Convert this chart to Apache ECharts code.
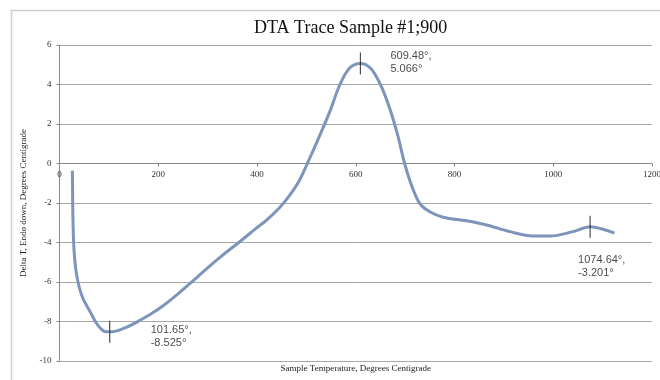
<!DOCTYPE html>
<html>
<head>
<meta charset="utf-8">
<script src="https://cdn.jsdelivr.net/npm/echarts@6/dist/echarts.min.js"></script>
<style>
  html, body { margin: 0; padding: 0; background: #fff; }
  #chart { width: 660px; height: 380px; }
</style>
</head>
<body>
<div id="chart"></div>
<script>
// DTA trace: sample temperature (°C) vs. delta T (°C)
const temperature = [
  26, 26.4, 26.7, 27.3, 28.2, 29.5, 31.2, 33.5, 37, 41.5, 47, 54, 62, 70, 78, 86, 94,
  101.65, 112, 125, 142, 160, 185, 210, 240, 270, 300, 330, 365, 395, 420, 445, 465, 485,
  502, 525, 547, 568, 588, 609.48, 630, 650, 668, 684, 699, 710, 720, 732, 750, 777,
  824, 865, 912, 959, 993, 1040, 1074.64, 1101, 1124
];
const deltaT = [
  -0.36, -1.0, -2.0, -2.9, -3.7, -4.4, -4.95, -5.45, -5.95, -6.4, -6.8, -7.15, -7.5, -7.88, -8.2, -8.42, -8.52,
  -8.525, -8.5, -8.4, -8.22, -7.98, -7.62, -7.2, -6.6, -5.95, -5.28, -4.65, -3.96, -3.35, -2.85, -2.25, -1.65, -0.9,
  0, 1.3, 2.6, 4.0, 4.85, 5.066, 4.82, 4.0, 2.85, 1.52, 0, -0.9, -1.55, -2.1, -2.44, -2.72,
  -2.9, -3.11, -3.45, -3.67, -3.67, -3.45, -3.201, -3.33, -3.53
];

// Marked extrema
const peakTemp = [101.65, 609.48, 1074.64];
const peakDelta = [-8.525, 5.066, -3.201];
const peakLabelOffset = [[41, 5], [30, -1], [-12, 40]];

const xTicks = { min: 0, max: 1200, step: 200 };
const yTicks = { min: -10, max: 6, step: 2 };

const chart = echarts.init(document.getElementById('chart'), null, { renderer: 'canvas' });

const serif = '"Liberation Serif", "DejaVu Serif", serif';
const sans = '"Liberation Sans", Arial, sans-serif';

const curve = temperature.map((t, i) => [t, deltaT[i]]);
const marks = peakTemp.map((t, i) => ({
  value: [t, peakDelta[i]],
  label: { offset: peakLabelOffset[i] }
}));

chart.setOption({
  animation: false,
  backgroundColor: '#fff',
  title: {
    text: 'DTA Trace Sample #1;900',
    left: 249,
    top: 14,
    textStyle: { fontFamily: serif, fontSize: 18, fontWeight: 'normal', color: '#111' }
  },
  graphic: [{
    type: 'rect',
    left: 9, top: 8,
    shape: { width: 700, height: 420 },
    style: { fill: 'none', stroke: '#cfcfcf', lineWidth: 1.5 },
    silent: true,
    z: -1
  }],
  grid: { left: 59.5, right: 8, top: 45, bottom: 19, containLabel: false, outerBoundsMode: 'none' },
  xAxis: {
    type: 'value',
    position: 'bottom',
    min: xTicks.min, max: xTicks.max, interval: xTicks.step,
    axisLine: { onZero: false, lineStyle: { color: '#8a8a8a', width: 1 } },
    axisTick: { show: true, length: 3, lineStyle: { color: '#8a8a8a' } },
    axisLabel: { fontFamily: serif, fontSize: 9, color: '#333', margin: 7, formatter: v => String(v) },
    splitLine: { show: false },
    name: 'Sample Temperature, Degrees Centigrade',
    nameLocation: 'middle',
    nameGap: 0,
    nameTextStyle: { fontFamily: serif, fontSize: 9, color: '#222' }
  },
  yAxis: {
    type: 'value',
    min: yTicks.min, max: yTicks.max, interval: yTicks.step,
    axisLine: { show: true, lineStyle: { color: '#8a8a8a', width: 1 } },
    axisTick: { show: true, length: 3, lineStyle: { color: '#8a8a8a' } },
    axisLabel: { fontFamily: serif, fontSize: 9, color: '#333', margin: 8 },
    splitLine: { show: true, lineStyle: { color: '#a8a8a8', width: 1 } },
    name: 'Delta T, Endo down, Degrees Centigrade',
    nameLocation: 'middle',
    nameGap: 24,
    nameTextStyle: { fontFamily: serif, fontSize: 9, color: '#222' }
  },
  series: [
    {
      type: 'line',
      data: curve,
      smooth: 0.35,
      showSymbol: false,
      lineStyle: { color: '#7d94bb', width: 3 },
      z: 2
    },
    {
      type: 'scatter',
      data: marks,
      symbol: 'rect',
      symbolSize: [1.2, 22],
      itemStyle: { color: '#222' },
      label: {
        show: true,
        position: 'inside',
        align: 'left',
        verticalAlign: 'middle',
        fontFamily: sans,
        fontSize: 11,
        lineHeight: 13,
        color: '#1a1a1a',
        formatter: p => p.value[0] + '°,\n' + p.value[1] + '°'
      },
      z: 3
    }
  ]
});

// Lift the temperature axis onto the zero line; keep its title under the plot.
const zeroY = chart.convertToPixel({ yAxisIndex: 0 }, 0);
const bottomY = chart.convertToPixel({ yAxisIndex: 0 }, yTicks.min);
const lift = zeroY - bottomY;
chart.setOption({ xAxis: { offset: lift, nameGap: -lift + 3 } });
</script>
</body>
</html>
